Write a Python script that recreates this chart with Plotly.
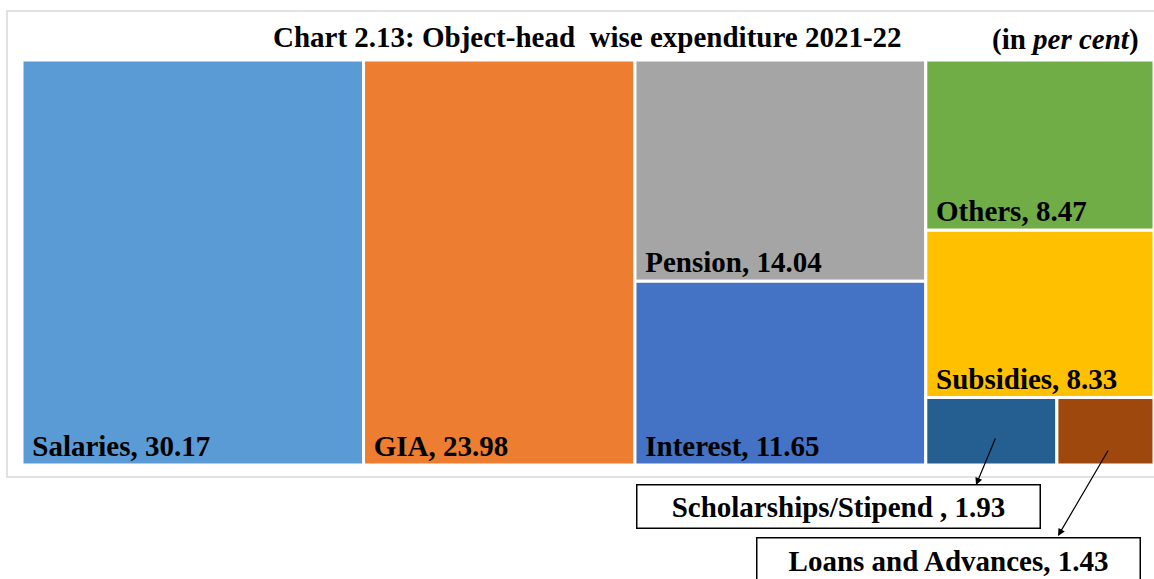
import plotly.graph_objects as go

# Data
categories = ["Salaries", "GIA", "Pension", "Interest", "Others", "Subsidies",
              "Scholarships/Stipend", "Loans and Advances"]
values = [30.17, 23.98, 14.04, 11.65, 8.47, 8.33, 1.93, 1.43]
groups = ["root", "root", "g3", "g3", "g4", "g4", "g5", "g5"]
colors = ["#5B9BD5", "#ED7D31", "#A5A5A5", "#4472C4", "#70AD47", "#FFC000",
          "#255E91", "#9E480E"]
show_inside = [True, True, True, True, True, True, False, False]

# layout groups (invisible) used to reproduce the tiling
group_ids = ["root", "g3", "g4", "g5"]
group_parents = ["", "root", "root", "g4"]
# order in which nodes are listed (children keep this order in the tiling)
node_order = ["root", "Salaries", "GIA", "g3", "Pension", "Interest",
              "g4", "Others", "Subsidies", "g5",
              "Scholarships/Stipend", "Loans and Advances"]


def group_total(g):
    tot = 0.0
    for v, p in zip(values, groups):
        if p == g:
            tot += v
    for gid, gp in zip(group_ids, group_parents):
        if gp == g:
            tot += group_total(gid)
    return tot


ids, labels, parents, vals, texts, fill, lw = [], [], [], [], [], [], []
NB = "\u00a0"
for n in node_order:
    if n in group_ids:
        i = group_ids.index(n)
        ids.append(n); labels.append(""); parents.append(group_parents[i])
        vals.append(round(group_total(n), 4)); texts.append("")
        fill.append("rgba(255,255,255,0)"); lw.append(0)
    else:
        i = categories.index(n)
        ids.append(n); labels.append(n); parents.append(groups[i])
        vals.append(values[i])
        texts.append(f"<b>{NB}{n}, {values[i]:.2f}</b>" if show_inside[i] else "")
        fill.append(colors[i]); lw.append(3)

fig = go.Figure(go.Treemap(
    ids=ids, labels=labels, parents=parents, values=vals,
    branchvalues="total", sort=False,
    text=texts, textinfo="text",
    textposition="bottom left",
    textfont=dict(family="Liberation Serif", size=29, color="black"),
    marker=dict(colors=fill, line=dict(color="white", width=lw),
                pad=dict(t=0, l=0, r=0, b=0)),
    tiling=dict(packing="slice-dice", pad=0),
    pathbar=dict(visible=False),
    hoverinfo="skip",
    root=dict(color="rgba(255,255,255,0)"),
))

W, H = 1154, 579
ml, mr, mt, mb = 22, 0, 60, 114
pw, ph = W - ml - mr, H - mt - mb


def px(x):
    return (x - ml) / pw


def py(y):
    return (H - mb - y) / ph


FONT = "Liberation Serif"
annotations = [
    dict(text="<b>Chart 2.13: Object-head  wise expenditure 2021-22</b>",
         x=px(587), y=py(37), xref="paper", yref="paper", showarrow=False,
         font=dict(family=FONT, size=29, color="black"),
         xanchor="center", yanchor="middle"),
    dict(text="<b>(in <i>per cent</i>)</b>",
         x=px(1141), y=py(39), xref="paper", yref="paper", showarrow=False,
         font=dict(family=FONT, size=29, color="black"),
         xanchor="right", yanchor="middle"),
    dict(text=f"<b>{categories[6]} , {values[6]:.2f}</b>",
         x=px(838), y=py(506), xref="paper", yref="paper", showarrow=False,
         font=dict(family=FONT, size=29, color="black"),
         bgcolor="white", bordercolor="black", borderwidth=1.5,
         width=400, height=40, xanchor="center", yanchor="middle"),
    dict(text=f"<b>{categories[7]}, {values[7]:.2f}</b>",
         x=px(948), y=py(560), xref="paper", yref="paper", showarrow=False,
         font=dict(family=FONT, size=29, color="black"),
         bgcolor="white", bordercolor="black", borderwidth=1.5,
         width=380, height=42, xanchor="center", yanchor="middle"),
    dict(text="", x=px(976), y=py(485), xref="paper", yref="paper",
         ax=20, ay=-48,
         showarrow=True, arrowhead=2, arrowsize=1.2, arrowwidth=1.2, arrowcolor="black"),
    dict(text="", x=px(1058), y=py(536), xref="paper", yref="paper",
         ax=51, ay=-87,
         showarrow=True, arrowhead=2, arrowsize=1.2, arrowwidth=1.2, arrowcolor="black"),
]

shapes = [
    dict(type="rect", xref="paper", yref="paper",
         x0=px(7), x1=px(1165), y0=py(477), y1=py(11),
         line=dict(color="#D9D9D9", width=1.5), fillcolor="rgba(0,0,0,0)", layer="below"),
]

fig.update_layout(
    width=W, height=H,
    margin=dict(l=ml, r=mr, t=mt, b=mb),
    paper_bgcolor="white", plot_bgcolor="white",
    annotations=annotations, shapes=shapes,
    uniformtext=dict(minsize=29, mode="show"),
    showlegend=False,
)

fig.write_html("out.html", config={"displayModeBar": False},
               post_script="document.body.style.margin='0px';document.body.style.overflow='hidden';")
